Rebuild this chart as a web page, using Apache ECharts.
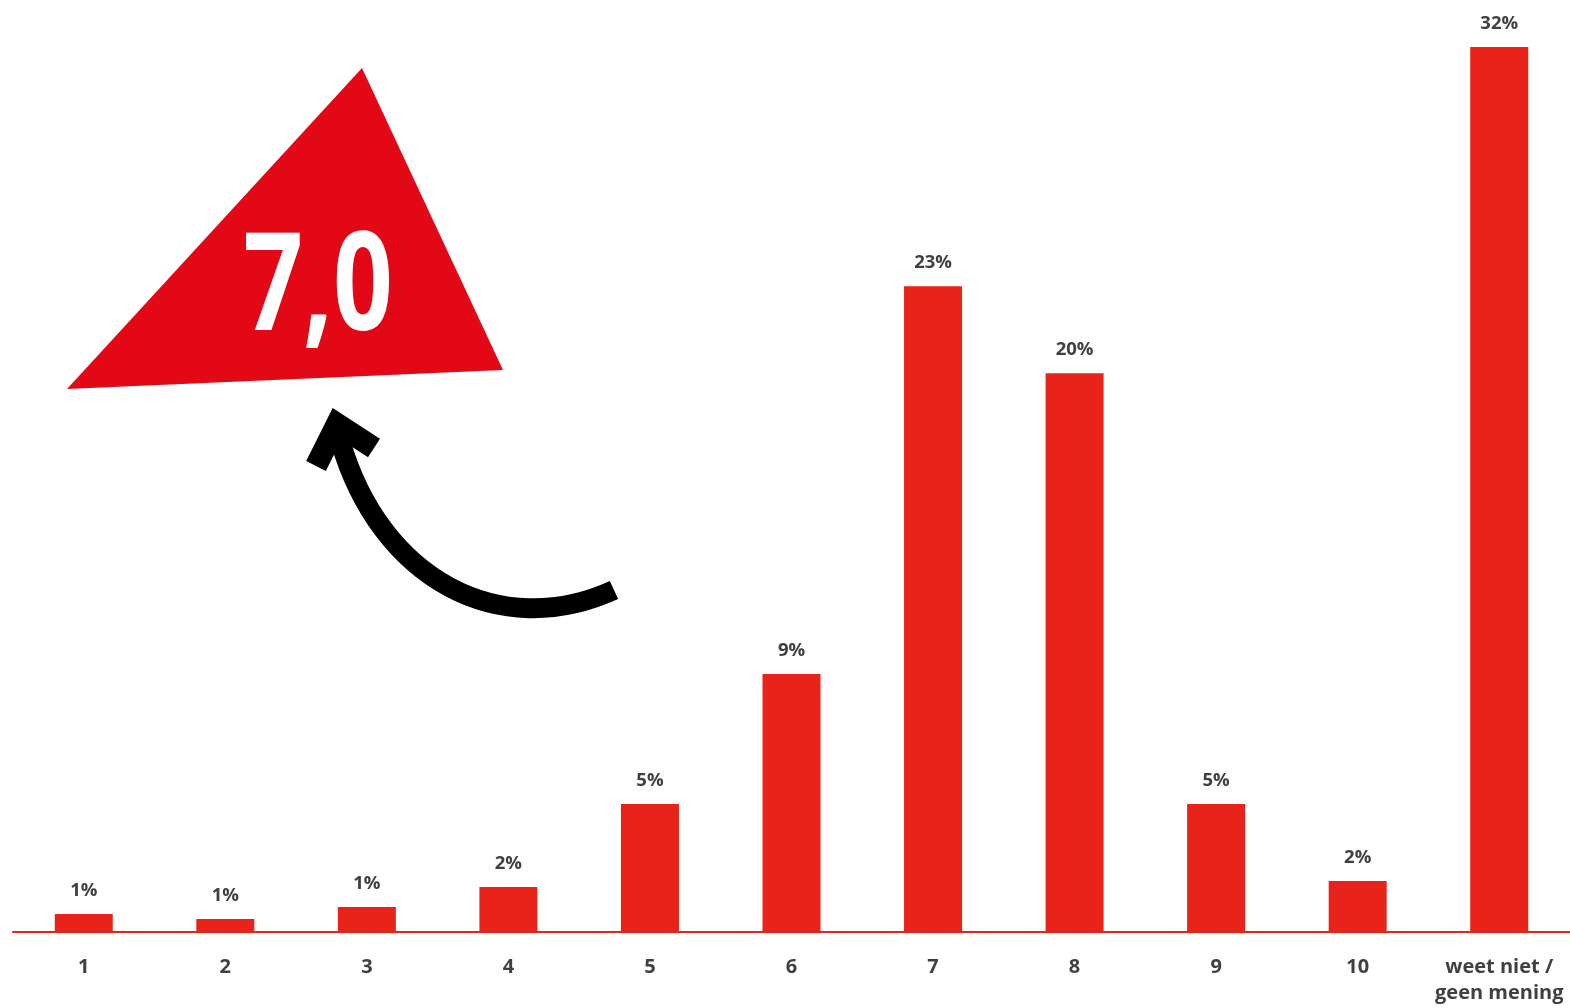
<!DOCTYPE html>
<html>
<head>
<meta charset="utf-8">
<script src="https://cdn.jsdelivr.net/npm/echarts@6/dist/echarts.min.js"></script>
<style>
  html, body { margin: 0; padding: 0; background: #fff; }
  #chart { width: 1570px; height: 1008px; }
</style>
</head>
<body>
<div id="chart"></div>
<script>
// rapportcijfers
const categories = ['1', '2', '3', '4', '5', '6', '7', '8', '9', '10', 'weet niet /\ngeen mening']
const shares = [0.65, 0.47, 0.9, 1.63, 4.63, 9.33, 23.35, 20.2, 4.63, 1.84, 32.0]
const shareLabels = ['1%', '1%', '1%', '2%', '5%', '9%', '23%', '20%', '5%', '2%', '32%']
const averageGrade = '7,0'

const font = 'Open Sans'
const chart = echarts.init(document.getElementById('chart'))

const options = {
  animation: false,
  grid: {
    left: 13,
    right: 0,
    top: 0,
    bottom: 76
  },
  xAxis: {
    type: 'category',
    data: categories,
    axisTick: { show: false },
    axisLine: {
      lineStyle: { color: '#E8231A', width: 2 }
    },
    axisLabel: {
      interval: 0,
      margin: 22,
      color: '#404040',
      fontFamily: font,
      fontWeight: 'bold',
      fontSize: 20,
      lineHeight: 26
    }
  },
  yAxis: {
    type: 'value',
    min: 0,
    max: 33.7,
    show: false,
    splitLine: { show: false }
  },
  series: [
    {
      type: 'bar',
      data: shares,
      barWidth: 58,
      itemStyle: { color: '#E8231A' },
      label: {
        show: true,
        position: 'top',
        distance: 14,
        color: '#404040',
        fontFamily: font,
        fontWeight: 'bold',
        fontSize: 18.5,
        formatter: function(p) {
          return shareLabels[p.dataIndex]
        }
      }
    }
  ],
  graphic: [
    {
      type: 'polygon',
      shape: { points: [[362, 68], [503, 370], [67, 389]] },
      style: { fill: '#E20816' }
    },
    {
      type: 'text',
      x: 318,
      y: 291,
      scaleX: 0.77,
      style: {
        text: averageGrade,
        fill: '#fff',
        font: 'bold 136px "Open Sans"',
        align: 'center',
        verticalAlign: 'middle'
      }
    },
    {
      type: 'bezierCurve',
      shape: { x1: 614, y1: 590, cpx1: 500, cpy1: 642, cpx2: 380, cpy2: 580, x2: 340, y2: 440 },
      style: { stroke: '#000', lineWidth: 20, fill: null }
    },
    {
      type: 'polyline',
      shape: { points: [[316, 466], [337, 424], [374, 448]] },
      style: { stroke: '#000', lineWidth: 22, lineJoin: 'miter', fill: null }
    }
  ]
}

chart.setOption(options)
window.addEventListener('resize', function() {
  chart.resize()
})
</script>
</body>
</html>
